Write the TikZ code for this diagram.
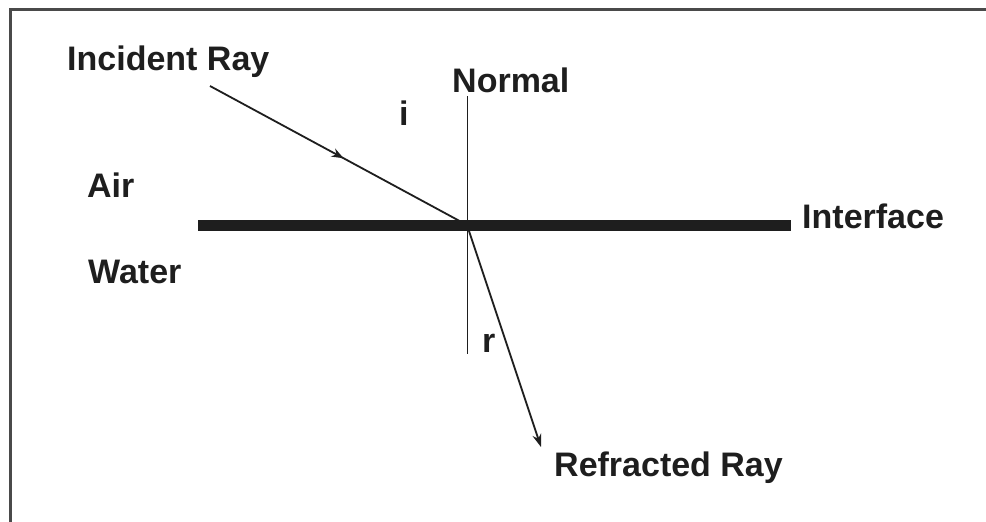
\documentclass[tikz,border=0pt]{standalone}
\usepackage{fontspec}
\setmainfont{Liberation Sans}
\usetikzlibrary{arrows.meta,decorations.markings}
\definecolor{ink}{HTML}{1E1E1E}
\definecolor{frame}{HTML}{4A4A4A}
\tikzset{
  lbl/.style={anchor=base west,inner sep=0pt,text=ink,font=\fontsize{34}{40}\selectfont\bfseries},
  ray/.style={draw=ink,line width=1.8pt},
  tip/.style={-{Stealth[length=13pt,width=9pt]}}
}
\begin{document}
\begin{tikzpicture}[x=1pt,y=-1pt]
\useasboundingbox (0,0) rectangle (986,522);
\fill[white] (0,0) rectangle (986,522);
% frame
\draw[frame,line width=3pt] (10,522) -- (10,9.5) -- (986,9.5);
% coordinates
\coordinate (is) at (210,86);
\coordinate (o) at (467,225);
\coordinate (re) at (541,447);
\coordinate (nt) at (467.5,96);
\coordinate (nb) at (467.5,354);
\coordinate (il) at (198,225);
\coordinate (ir) at (791,225);
% interface
\draw[ink,line width=11pt] (il) -- (ir);
% normal
\draw[ray] (nt) -- (nb);
% incident ray
\draw[ray,postaction={decorate},decoration={markings,mark=at position 0.52 with {\arrow{Stealth[length=12pt,width=9pt]}}}] (is) -- (o);
% refracted ray
\draw[ray,tip] (o) -- (re);
% labels
\node[lbl] (tinc) at (67,70) {Incident Ray};
\node[lbl] (tnor) at (452,92) {Normal};
\node[lbl] (ti) at (399,125) {i};
\node[lbl] (tair) at (87,197) {Air};
\node[lbl] (twat) at (88,283) {Water};
\node[lbl] (tint) at (802,228) {Interface};
\node[lbl] (tr) at (482,352) {r};
\node[lbl] (tref) at (554,476) {Refracted Ray};
\end{tikzpicture}
\end{document}
